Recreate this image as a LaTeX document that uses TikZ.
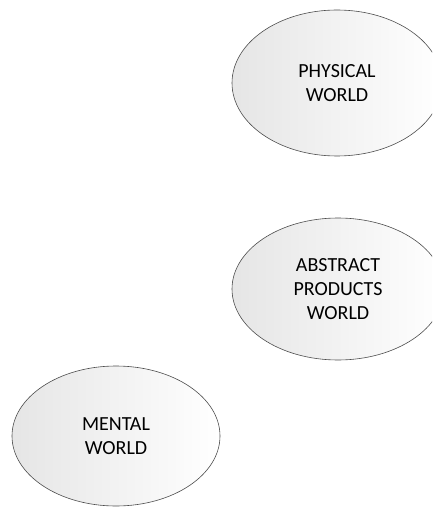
\documentclass[tikz,border=0pt]{standalone}
\usepackage{fontspec}
\setmainfont{Carlito}
\usepackage{tikz}
\usetikzlibrary{positioning, shapes.geometric}

\begin{document}
\begin{tikzpicture}[x=1pt, y=-1pt,
    world/.style={ellipse, draw=black!70, line width=0.6pt, left color=black!10, right color=white,
      inner sep=0pt, align=center, font=\fontsize{20}{24}\selectfont}]
    \useasboundingbox (0,0) rectangle (432,510);
    \clip (0,0) rectangle (432,510);

    % Draw the three worlds
    \node[world, minimum width=210pt, minimum height=146pt] (physical) at (337,83) {PHYSICAL\\WORLD};
    \node[world, minimum width=212pt, minimum height=142pt] (abstract) at (338,289) {ABSTRACT\\PRODUCTS\\WORLD};
    \node[world, minimum width=208pt, minimum height=140pt] (mental) at (116,436) {MENTAL\\WORLD};

\end{tikzpicture}
\end{document}
